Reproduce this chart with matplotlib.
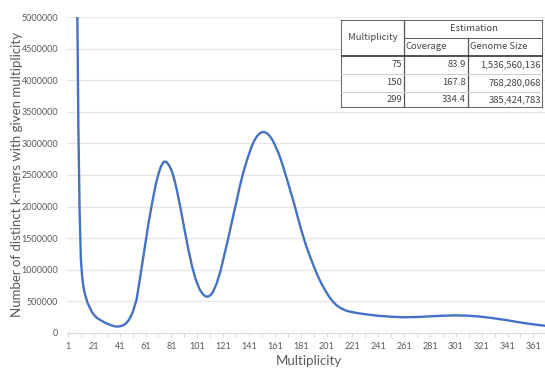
import numpy as np
import matplotlib
matplotlib.use("Agg")
import matplotlib.pyplot as plt

# k-mer histogram, values
mult = [7, 8, 9, 10, 11, 12, 13, 14, 16, 18, 20, 23, 26, 30, 34, 38, 41, 44, 46, 48, 51, 54,
        57, 60, 63, 66, 69, 71, 73, 75, 77, 79, 81, 83, 85, 88, 91, 94, 97, 100, 103, 105,
        107, 109, 111, 113, 116, 119, 122, 125, 128, 131, 134, 137, 140, 143, 145, 147,
        149, 151, 153, 155, 157, 159, 161, 164, 167, 170, 173, 176, 179, 182, 185, 188,
        191, 194, 197, 200, 203, 206, 209, 212, 216, 220, 225, 232, 240, 250, 260, 270,
        280, 290, 300, 310, 320, 330, 340, 350, 360, 370]
counts = [7.5e6, 5.6e6, 3.3e6, 1.9e6, 1.15e6, 0.88e6, 0.72e6, 0.62e6, 0.48e6, 0.39e6,
          0.31e6, 0.24e6, 0.2e6, 0.155e6, 0.12e6, 0.097e6, 0.1e6, 0.12e6, 0.15e6, 0.2e6,
          0.32e6, 0.52e6, 0.9e6, 1.3e6, 1.7e6, 2.05e6, 2.36e6, 2.52e6, 2.64e6, 2.71e6,
          2.71e6, 2.66e6, 2.58e6, 2.45e6, 2.28e6, 1.98e6, 1.65e6, 1.33e6, 1.05e6, 0.83e6,
          0.68e6, 0.62e6, 0.58e6, 0.57e6, 0.59e6, 0.64e6, 0.78e6, 0.98e6, 1.24e6, 1.5e6,
          1.78e6, 2.05e6, 2.33e6, 2.57e6, 2.77e6, 2.95e6, 3.04e6, 3.11e6, 3.155e6, 3.18e6,
          3.18e6, 3.16e6, 3.12e6, 3.06e6, 2.98e6, 2.84e6, 2.66e6, 2.46e6, 2.25e6, 2.04e6,
          1.81e6, 1.59e6, 1.39e6, 1.22e6, 1.06e6, 0.91e6, 0.78e6, 0.67e6, 0.57e6, 0.49e6,
          0.43e6, 0.39e6, 0.35e6, 0.33e6, 0.31e6, 0.29e6, 0.27e6, 0.255e6, 0.245e6,
          0.248e6, 0.258e6, 0.268e6, 0.275e6, 0.27e6, 0.255e6, 0.23e6, 0.2e6, 0.165e6,
          0.135e6, 0.11e6]

# estimation table
tab_mult = ["75", "150", "299"]
tab_cov = ["83.9", "167.8", "334.4"]
tab_size = ["1,536,560,136", "768,280,068", "385,424,783"]

gray = "#595959"
W, H = 545, 368
fig = plt.figure(figsize=(W / 100, H / 100), dpi=100)
ax = fig.add_axes([66.7 / W, 1 - 332.7 / H, 1 - 66.7 / W, (332.7 - 17.3) / H])

ax.plot(mult, counts, color="#4472C4", lw=1.7, solid_capstyle="round",
        solid_joinstyle="round")
ax.set_ylim(0, 5000000)
ax.set_xlim(0, 370)
ax.set_yticks(np.arange(0, 5000001, 500000))
ax.set_yticklabels([str(v) for v in range(0, 5000001, 500000)])
xt = np.arange(1, 370, 10)
ax.set_xticks(xt)
ax.set_xticklabels([str(v) if (v - 1) % 20 == 0 else "" for v in xt])
ax.grid(axis="y", color="#e6e6e6", lw=0.9)
ax.set_axisbelow(True)
for s in ["top", "right", "left"]:
    ax.spines[s].set_visible(False)
ax.spines["bottom"].set_color("#d9d9d9")
ax.tick_params(axis="y", length=0, pad=6, labelsize=6.5, labelcolor=gray)
ax.tick_params(axis="x", length=3, color="#d9d9d9", pad=4, labelsize=6.5, labelcolor=gray)
for lab in ax.get_xticklabels() + ax.get_yticklabels():
    lab.set_family("Lato")

fig.text(17 / W, 1 - 174 / H, "Number of distinct k-mers with given multiplicity",
         rotation=90, ha="center", va="center", fontsize=9.5, color=gray, family="Lato")
fig.text(309 / W, 1 - 361 / H, "Multiplicity", ha="center", va="center",
         fontsize=9.5, color=gray, family="Lato")

# table drawn in its own axes (pixel units)
tx0, ty0, tx1, ty1 = 341, 20, 543, 108
tax = fig.add_axes([tx0 / W, 1 - ty1 / H, (tx1 - tx0) / W, (ty1 - ty0) / H])
tax.set_xlim(0, tx1 - tx0)
tax.set_ylim(ty1 - ty0, 0)
tax.axis("off")
tax.add_patch(plt.Rectangle((0, 0), tx1 - tx0, ty1 - ty0, facecolor="white",
                            edgecolor="#444444", lw=1.2, zorder=1))
c1, c2, cw = 63, 127, tx1 - tx0
r1, r2, r3, r4 = 17.7, 35.7, 54, 71.7
dark = "#555555"
tax.plot([c1, c1], [0, ty1 - ty0], color=dark, lw=0.9, zorder=2)
tax.plot([c2, c2], [r1, ty1 - ty0], color=dark, lw=0.9, zorder=2)
tax.plot([c1, cw], [r1, r1], color=dark, lw=0.7, zorder=2)
tax.plot([0, cw], [r2, r2], color="#333333", lw=1.2, zorder=2)
for r in [r3, r4]:
    tax.plot([0, cw], [r, r], color="#cccccc", lw=0.7, zorder=2)

tf = dict(fontsize=6.8, color="#454545", family="Noto Sans CJK JP", va="center", zorder=3)
tax.text(c1 / 2, r2 / 2, "Multiplicity", ha="center", **tf)
tax.text((c1 + cw) / 2, r1 / 2, "Estimation", ha="center", **tf)
tax.text(c1 + 2, (r1 + r2) / 2, "Coverage", ha="left", **tf)
tax.text(c2 + 2, (r1 + r2) / 2, "Genome Size", ha="left", **tf)
rows = [(r2 + r3) / 2, (r3 + r4) / 2, (r4 + ty1 - ty0) / 2]
for i, yy in enumerate(rows):
    tax.text(c1 - 2, yy, tab_mult[i], ha="right", **tf)
    tax.text(c2 - 2, yy, tab_cov[i], ha="right", **tf)
    tax.text(cw - 2, yy, tab_size[i], ha="right", **tf)

fig.savefig("out.png", dpi=100)
